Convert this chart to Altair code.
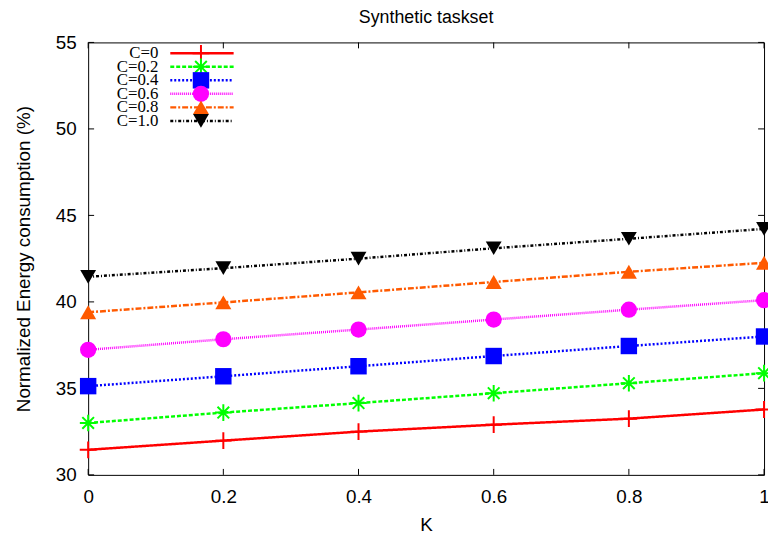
import altair as alt
import pandas as pd

# ---------------- data ----------------
K = [0, 0.2, 0.4, 0.6, 0.8, 1.0]
series = ["C=0", "C=0.2", "C=0.4", "C=0.6", "C=0.8", "C=1.0"]
c00 = [31.45, 31.98, 32.50, 32.90, 33.25, 33.78]
c02 = [33.00, 33.60, 34.15, 34.72, 35.30, 35.88]
c04 = [35.13, 35.70, 36.28, 36.87, 37.45, 38.00]
c06 = [37.23, 37.84, 38.40, 38.98, 39.55, 40.10]
c08 = [39.40, 39.97, 40.55, 41.15, 41.74, 42.26]
c10 = [41.45, 41.95, 42.50, 43.10, 43.65, 44.22]
values = [c00, c02, c04, c06, c08, c10]
x_ticks = [0, 0.2, 0.4, 0.6, 0.8, 1.0]
y_ticks = [30, 35, 40, 45, 50, 55]
hollow_series = ["C=0", "C=0.2"]

# ---------------- styles ----------------
colors = ["#ff0000", "#00ff00", "#0000ff", "#ff00ff", "#ff5a00", "#000000"]
dashes = [[1, 0], [4, 2], [2, 2], [1, 1], [6, 2, 2, 2], [3, 2, 1, 2]]
PLUS = "M-1,0H1M0,-1V1"
ASTER = "M-1,0H1M0,-1V1M-0.7,-0.7L0.7,0.7M-0.7,0.7L0.7,-0.7"
shapes = [PLUS, ASTER, "square", "circle", "triangle-up", "triangle-down"]
sizes = [289, 256, 279, 256, 270, 270]

W, H = 683, 437
SANS = "Liberation Sans"
SERIF = "Liberation Serif"

rows = []
for s, vals in zip(series, values):
    for k, v in zip(K, vals):
        rows.append({"K": k, "E": v, "series": s, "hollow": s in hollow_series})
df = pd.DataFrame(rows)
leg_df = pd.DataFrame({"series": series, "hollow": [s in hollow_series for s in series]})
xt_df = pd.DataFrame({"t": x_ticks})
yt_df = pd.DataFrame({"t": y_ticks})

xscale = alt.Scale(domain=[0, 1], nice=False, zero=False)
yscale = alt.Scale(domain=[30, 55], nice=False, zero=False)
xaxis = alt.Axis(values=x_ticks, format="~g", grid=False, ticks=False, tickSize=0,
                 domain=False, labelPadding=13, labelFlush=False, labelFont=SANS,
                 labelFontSize=19, labelColor="black", titleFont=SANS, titleFontSize=19,
                 titleFontWeight="normal", titleColor="black", titlePadding=9)
yaxis = alt.Axis(values=y_ticks, grid=False, ticks=False, tickSize=0, domain=False,
                 labelPadding=12, labelFlush=False, labelFont=SANS, labelFontSize=19,
                 labelColor="black", titleFont=SANS, titleFontSize=19,
                 titleFontWeight="normal", titleColor="black", titlePadding=22)
XT = "K"
YT = "Normalized Energy consumption (%)"

color_enc = alt.Color("series:N", scale=alt.Scale(domain=series, range=colors), legend=None)
dash_enc = alt.StrokeDash("series:N", scale=alt.Scale(domain=series, range=dashes), legend=None)
shape_enc = alt.Shape("series:N", scale=alt.Scale(domain=series, range=shapes), legend=None)
size_enc = alt.Size("series:N", scale=alt.Scale(domain=series, range=sizes), legend=None)

x_enc = alt.X("K:Q", scale=xscale, axis=xaxis, title=XT)
y_enc = alt.Y("E:Q", scale=yscale, axis=yaxis, title=YT)

base = alt.Chart(df)
lines = base.mark_line(strokeWidth=2.5).encode(
    x=x_enc, y=y_enc, color=color_enc, strokeDash=dash_enc, detail="series:N")
pts_hollow = base.transform_filter("datum.hollow").mark_point(
    filled=False, strokeWidth=2, opacity=1).encode(
    x=x_enc, y=y_enc, color=color_enc, shape=shape_enc, size=size_enc)
pts_filled = base.transform_filter("!datum.hollow").mark_point(
    filled=True, opacity=1).encode(
    x=x_enc, y=y_enc, color=color_enc, shape=shape_enc, size=size_enc)

TL = 6
xt_x = alt.X("t:Q", scale=xscale, axis=xaxis, title=XT)
yt_y = alt.Y("t:Q", scale=yscale, axis=yaxis, title=YT)
tick_b = alt.Chart(xt_df).mark_rule(color="black", strokeWidth=1).encode(
    x=xt_x, y=alt.value(H), y2=alt.value(H - TL))
tick_t = alt.Chart(xt_df).mark_rule(color="black", strokeWidth=1).encode(
    x=xt_x, y=alt.value(0), y2=alt.value(TL))
tick_l = alt.Chart(yt_df).mark_rule(color="black", strokeWidth=1).encode(
    y=yt_y, x=alt.value(0), x2=alt.value(TL))
tick_r = alt.Chart(yt_df).mark_rule(color="black", strokeWidth=1).encode(
    y=yt_y, x=alt.value(W), x2=alt.value(W - TL))

main = alt.layer(tick_b, tick_t, tick_l, tick_r, lines, pts_hollow, pts_filled)

# ---------------- legend (inside, top-left) ----------------
leg_y = alt.Y("series:N", scale=alt.Scale(type="point", domain=series, range=[11, 79.3], padding=0),
              axis=None)
lbase = alt.Chart(leg_df)
leg_line = lbase.mark_rule(strokeWidth=2.5).encode(
    y=leg_y, x=alt.value(83), x2=alt.value(147), color=color_enc, strokeDash=dash_enc)
leg_hollow = lbase.transform_filter("datum.hollow").mark_point(
    filled=False, strokeWidth=2, opacity=1).encode(
    y=leg_y, x=alt.value(114), color=color_enc, shape=shape_enc, size=size_enc)
leg_filled = lbase.transform_filter("!datum.hollow").mark_point(
    filled=True, opacity=1).encode(
    y=leg_y, x=alt.value(114), color=color_enc, shape=shape_enc, size=size_enc)
leg_text = lbase.mark_text(align="right", baseline="middle", font=SERIF, fontSize=17,
                           color="black").encode(
    y=leg_y, x=alt.value(71), text="series:N")
legend = alt.layer(leg_line, leg_hollow, leg_filled, leg_text)

chart = alt.layer(main, legend).resolve_scale(y="independent").properties(
    width=W, height=H,
    title=alt.TitleParams("Synthetic taskset", font=SANS, fontSize=18, fontWeight="normal",
                          color="black", anchor="middle", frame="group",
                          baseline="alphabetic", offset=-7),
    padding={"left": 81, "top": 32, "right": 4, "bottom": 60},
    autosize=alt.AutoSizeParams(type="none"),
).configure_view(stroke="black", strokeWidth=1).configure_legend(disable=True)

chart.save("out.html", embed_options={"renderer": "svg", "actions": False})
